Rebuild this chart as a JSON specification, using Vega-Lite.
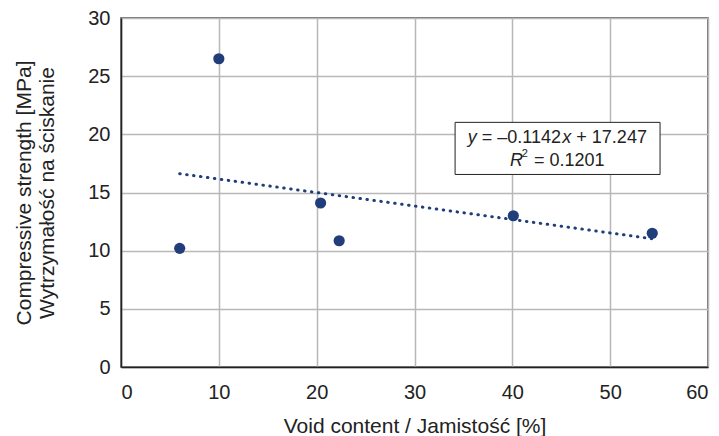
{
  "$schema": "https://vega.github.io/schema/vega-lite/v6.json",
  "width": 587,
  "height": 349,
  "autosize": "none",
  "padding": {"left": 121, "top": 18, "right": 11, "bottom": 69},
  "config": {
    "font": "Liberation Sans",
    "view": {"stroke": "#444444", "strokeWidth": 1.5},
    "text": {"font": "Liberation Sans", "fontWeight": 400, "fill": "#222222", "fontSize": 18, "align": "left", "baseline": "middle"},
    "axis": {
      "grid": true,
      "gridColor": "#b8b8b8",
      "gridWidth": 1.5,
      "ticks": false,
      "domainColor": "#222222",
      "domainWidth": 1.5,
      "labelFont": "Liberation Sans",
      "labelFontSize": 20,
      "labelColor": "#222222",
      "titleFont": "Liberation Sans",
      "titleFontSize": 21,
      "titleFontWeight": "normal",
      "titleColor": "#222222"
    }
  },
  "datasets": {
    "points": [
      {"void": 6.0, "strength": 10.2},
      {"void": 10.0, "strength": 26.5},
      {"void": 20.4, "strength": 14.1},
      {"void": 22.3, "strength": 10.85},
      {"void": 40.1, "strength": 13.0},
      {"void": 54.3, "strength": 11.5}
    ],
    "one": [{"label": "fit"}]
  },
  "layer": [
    {
      "data": {"name": "points"},
      "transform": [{"regression": "strength", "on": "void"}],
      "mark": {"type": "line", "color": "#213d7a", "strokeWidth": 3, "strokeDash": [0.5, 6.5], "strokeCap": "round"},
      "encoding": {
        "x": {"field": "void", "type": "quantitative"},
        "y": {"field": "strength", "type": "quantitative"}
      }
    },
    {
      "data": {"name": "points"},
      "mark": {"type": "circle", "color": "#213d7a", "opacity": 1, "size": 125},
      "encoding": {
        "x": {
          "field": "void", "type": "quantitative",
          "scale": {"domain": [0, 60], "nice": false, "zero": true},
          "axis": {"values": [0, 10, 20, 30, 40, 50, 60], "labelPadding": 15, "title": "Void content / Jamistość [%]", "titlePadding": 13}
        },
        "y": {
          "field": "strength", "type": "quantitative",
          "scale": {"domain": [0, 30], "nice": false},
          "axis": {"values": [0, 5, 10, 15, 20, 25, 30], "labelPadding": 11, "title": ["Compressive strength [MPa]", "Wytrzymałość na ściskanie"], "titlePadding": 30, "titleLineHeight": 23}
        }
      }
    },
    {
      "data": {"name": "one"},
      "mark": {"type": "rect", "fill": "white", "stroke": "#222222", "strokeWidth": 1},
      "encoding": {
        "x": {"datum": 34.15, "type": "quantitative"},
        "x2": {"datum": 55.1},
        "y": {"datum": 21.03, "type": "quantitative"},
        "y2": {"datum": 16.55}
      }
    },
    {
      "data": {"name": "one"},
      "mark": {"type": "text", "fontStyle": "italic", "dx": -89.6},
      "encoding": {
        "x": {"datum": 44.6, "type": "quantitative"},
        "y": {"datum": 19.65, "type": "quantitative"},
        "text": {"value": "y"}
      }
    },
    {
      "data": {"name": "one"},
      "mark": {"type": "text", "dx": -75.6},
      "encoding": {
        "x": {"datum": 44.6, "type": "quantitative"},
        "y": {"datum": 19.65, "type": "quantitative"},
        "text": {"value": "= –0.1142"}
      }
    },
    {
      "data": {"name": "one"},
      "mark": {"type": "text", "fontStyle": "italic", "dx": 5.0},
      "encoding": {
        "x": {"datum": 44.6, "type": "quantitative"},
        "y": {"datum": 19.65, "type": "quantitative"},
        "text": {"value": "x"}
      }
    },
    {
      "data": {"name": "one"},
      "mark": {"type": "text", "dx": 19.0},
      "encoding": {
        "x": {"datum": 44.6, "type": "quantitative"},
        "y": {"datum": 19.65, "type": "quantitative"},
        "text": {"value": "+ 17.247"}
      }
    },
    {
      "data": {"name": "one"},
      "mark": {"type": "text", "fontStyle": "italic", "dx": -47.3},
      "encoding": {
        "x": {"datum": 44.6, "type": "quantitative"},
        "y": {"datum": 17.67, "type": "quantitative"},
        "text": {"value": "R"}
      }
    },
    {
      "data": {"name": "one"},
      "mark": {"type": "text", "fontSize": 11, "dx": -35.5, "dy": -7},
      "encoding": {
        "x": {"datum": 44.6, "type": "quantitative"},
        "y": {"datum": 17.67, "type": "quantitative"},
        "text": {"value": "2"}
      }
    },
    {
      "data": {"name": "one"},
      "mark": {"type": "text", "dx": -23.3},
      "encoding": {
        "x": {"datum": 44.6, "type": "quantitative"},
        "y": {"datum": 17.67, "type": "quantitative"},
        "text": {"value": "= 0.1201"}
      }
    }
  ]
}
